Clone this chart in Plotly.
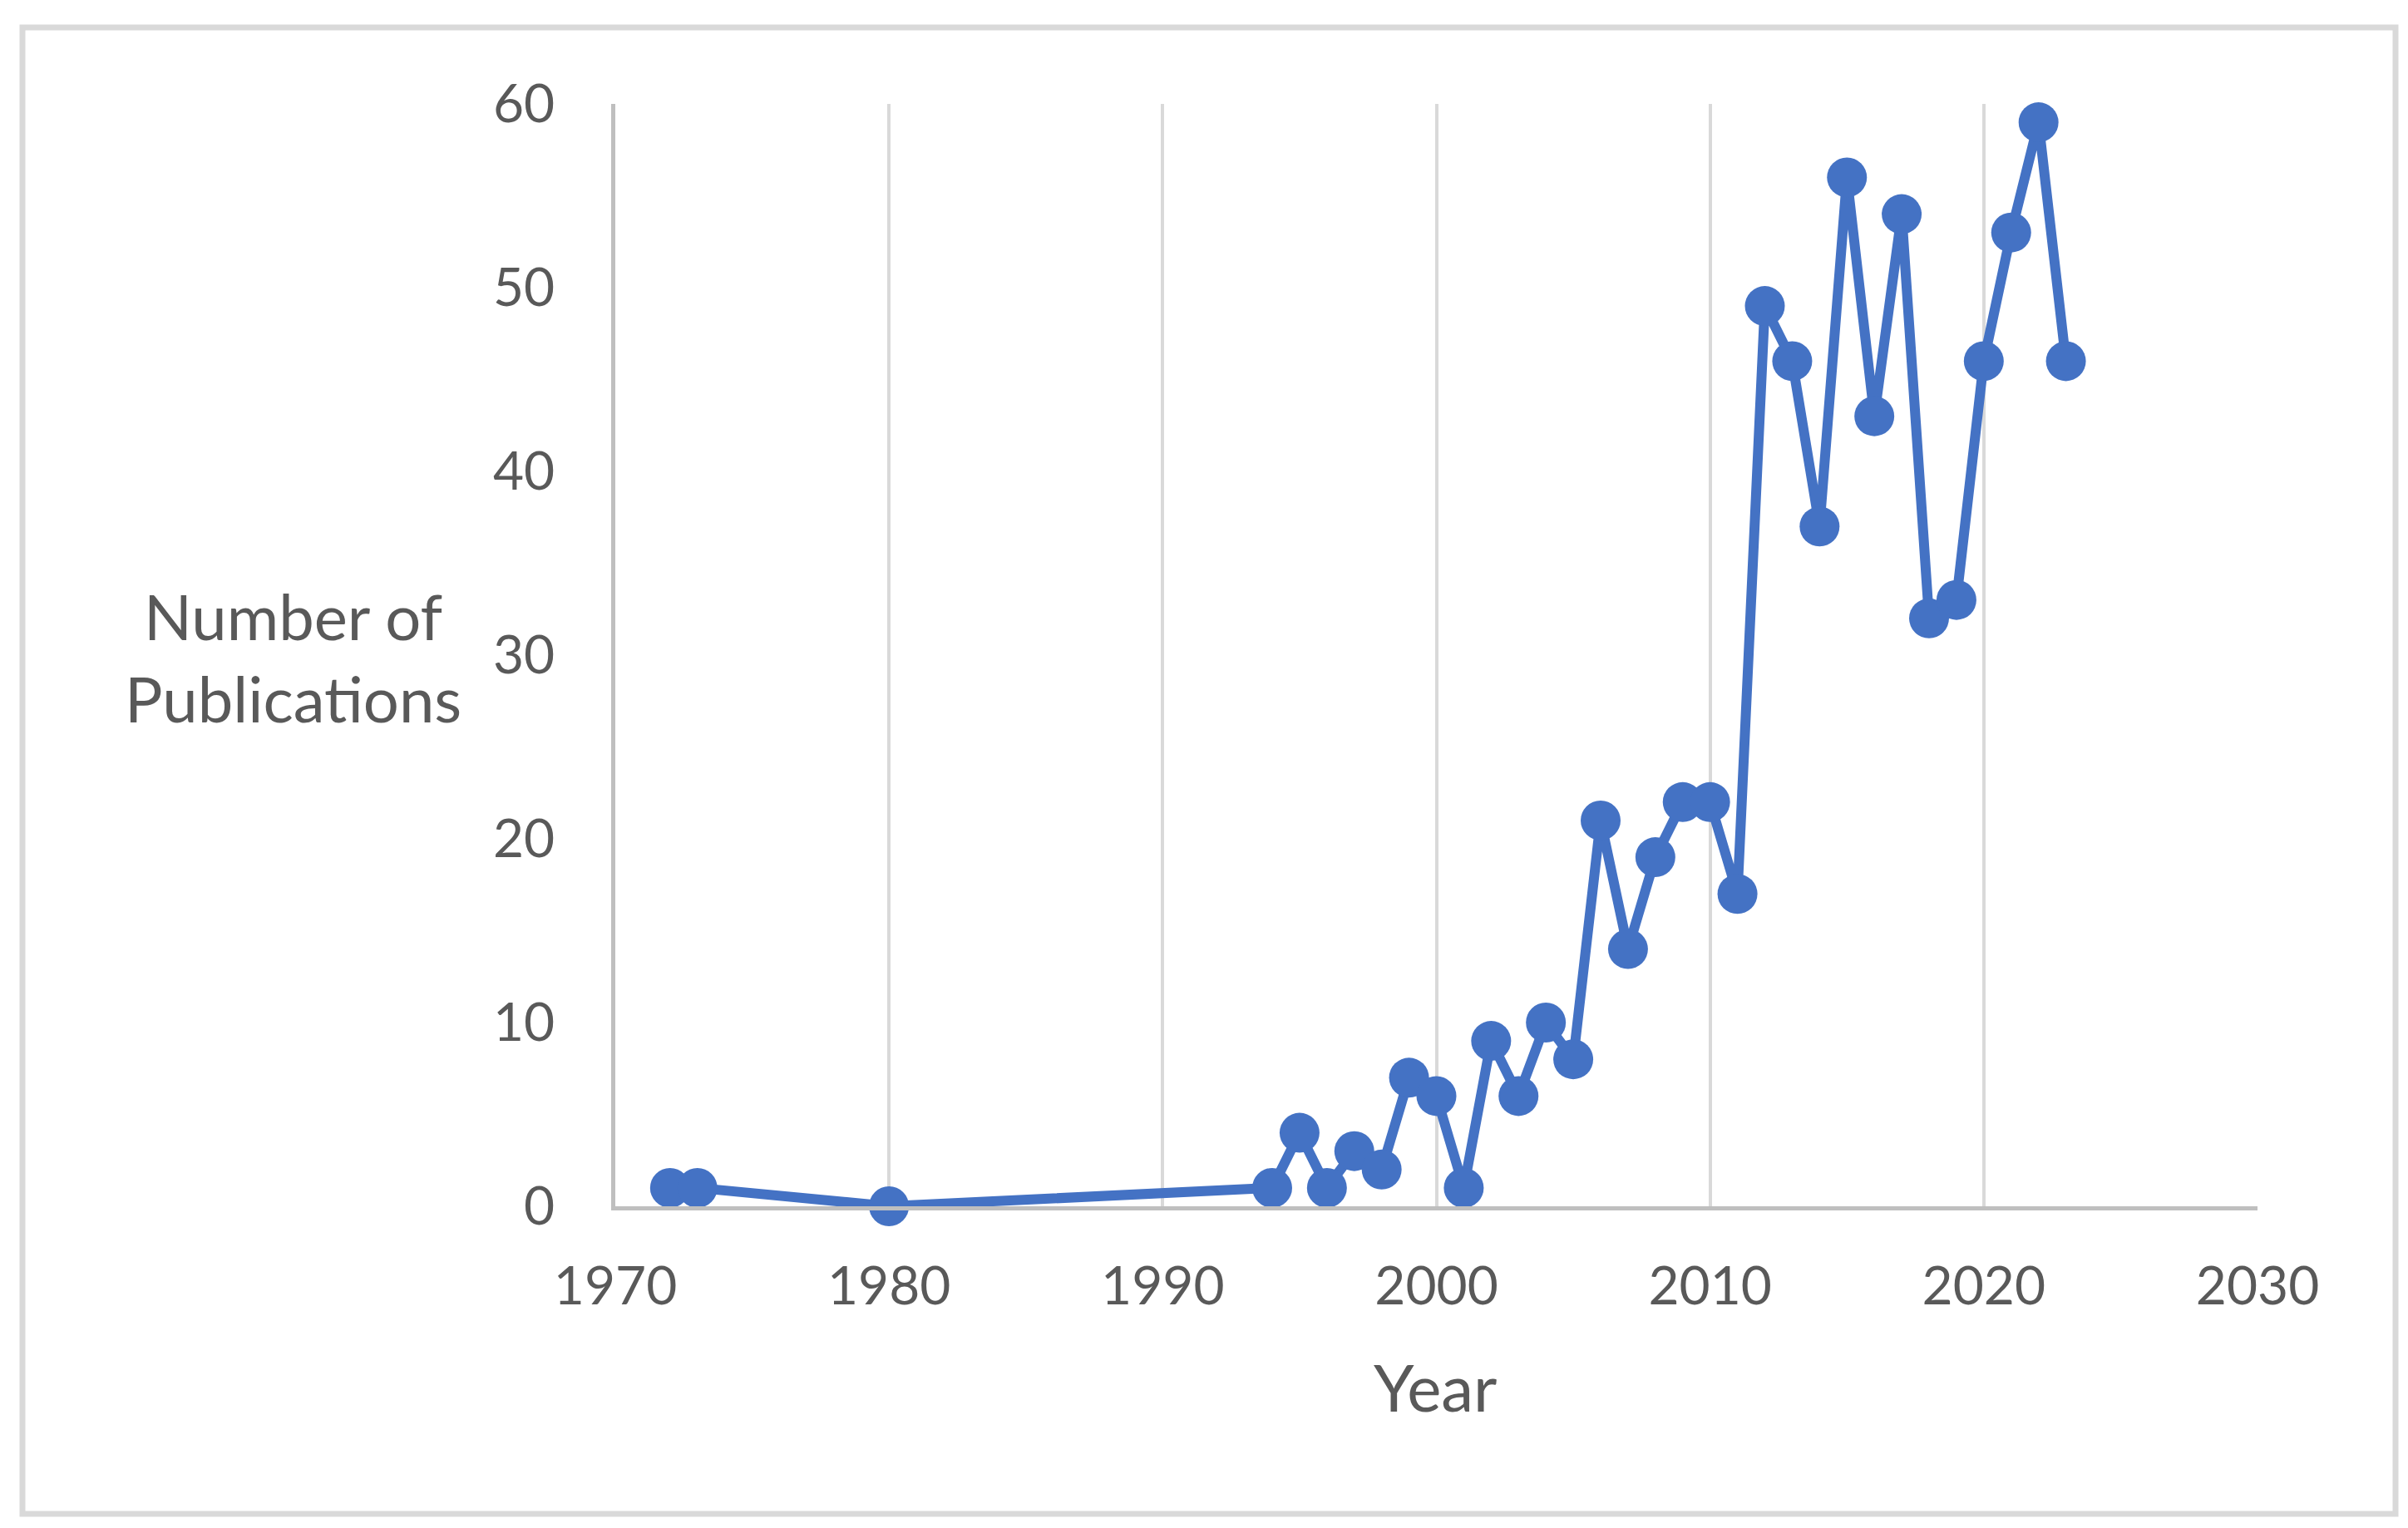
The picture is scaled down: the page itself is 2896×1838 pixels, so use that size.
import plotly.graph_objects as go

years = [1972, 1973, 1980, 1994, 1995, 1996, 1997, 1998, 1999, 2000, 2001, 2002, 2003,
         2004, 2005, 2006, 2007, 2008, 2009, 2010, 2011, 2012, 2013, 2014, 2015, 2016,
         2017, 2018, 2019, 2020, 2021, 2022, 2023]
publications = [1, 1, 0, 1, 4, 1, 3, 2, 7, 6, 1, 9, 6,
                10, 8, 21, 14, 19, 22, 22, 17, 49, 46, 37, 56, 43,
                54, 32, 33, 46, 53, 59, 46]

x_ticks = [1970, 1980, 1990, 2000, 2010, 2020, 2030]
y_ticks = [0, 10, 20, 30, 40, 50, 60]

FONT = "Lato"
TXT = "#595959"
BLUE = "#4472C4"

fig = go.Figure()
fig.add_trace(go.Scatter(
    x=years, y=publications, mode="lines+markers",
    line=dict(color=BLUE, width=12),
    marker=dict(color=BLUE, size=48),
    cliponaxis=False, showlegend=False,
))

fig.update_layout(
    width=2896, height=1838,
    margin=dict(l=732, r=189, t=117, b=395),
    paper_bgcolor="white", plot_bgcolor="white",
    font=dict(family=FONT, color=TXT, size=64),
    xaxis=dict(
        range=[1970, 2030], tickvals=x_ticks, ticktext=[str(v) for v in x_ticks],
        showgrid=True, gridcolor="#D9D9D9", gridwidth=4,
        showline=True, linecolor="#BFBFBF", linewidth=5,
        ticks="outside", ticklen=36, tickcolor="rgba(0,0,0,0)", zeroline=False,
        tickfont=dict(family=FONT, color=TXT, size=64),
    ),
    yaxis=dict(
        range=[0, 60], tickvals=y_ticks, ticktext=[str(v) for v in y_ticks],
        showgrid=False, showline=True, linecolor="#BFBFBF", linewidth=5,
        ticks="outside", ticklen=55, tickcolor="rgba(0,0,0,0)", zeroline=False,
        tickfont=dict(family=FONT, color=TXT, size=64),
    ),
    shapes=[dict(type="rect", xref="paper", yref="paper",
                 x0=(19 - 732) / 1975, x1=(2873 - 732) / 1975,
                 y0=(1443 - 1813) / 1326, y1=(1443 - 25) / 1326,
                 line=dict(color="#D9D9D9", width=7), layer="below")],
    annotations=[
        dict(text="Number of<br>Publications", xref="paper", yref="paper",
             x=(344 - 732) / 1975, y=(1443 - 782) / 1326, showarrow=False,
             xanchor="center", yanchor="middle",
             font=dict(family=FONT, color=TXT, size=76)),
        dict(text="Year", xref="paper", yref="paper",
             x=(1718 - 732) / 1975, y=(1443 - 1660) / 1326, showarrow=False,
             xanchor="center", yanchor="middle",
             font=dict(family=FONT, color=TXT, size=78)),
    ],
)

fig.write_html("out.html")
